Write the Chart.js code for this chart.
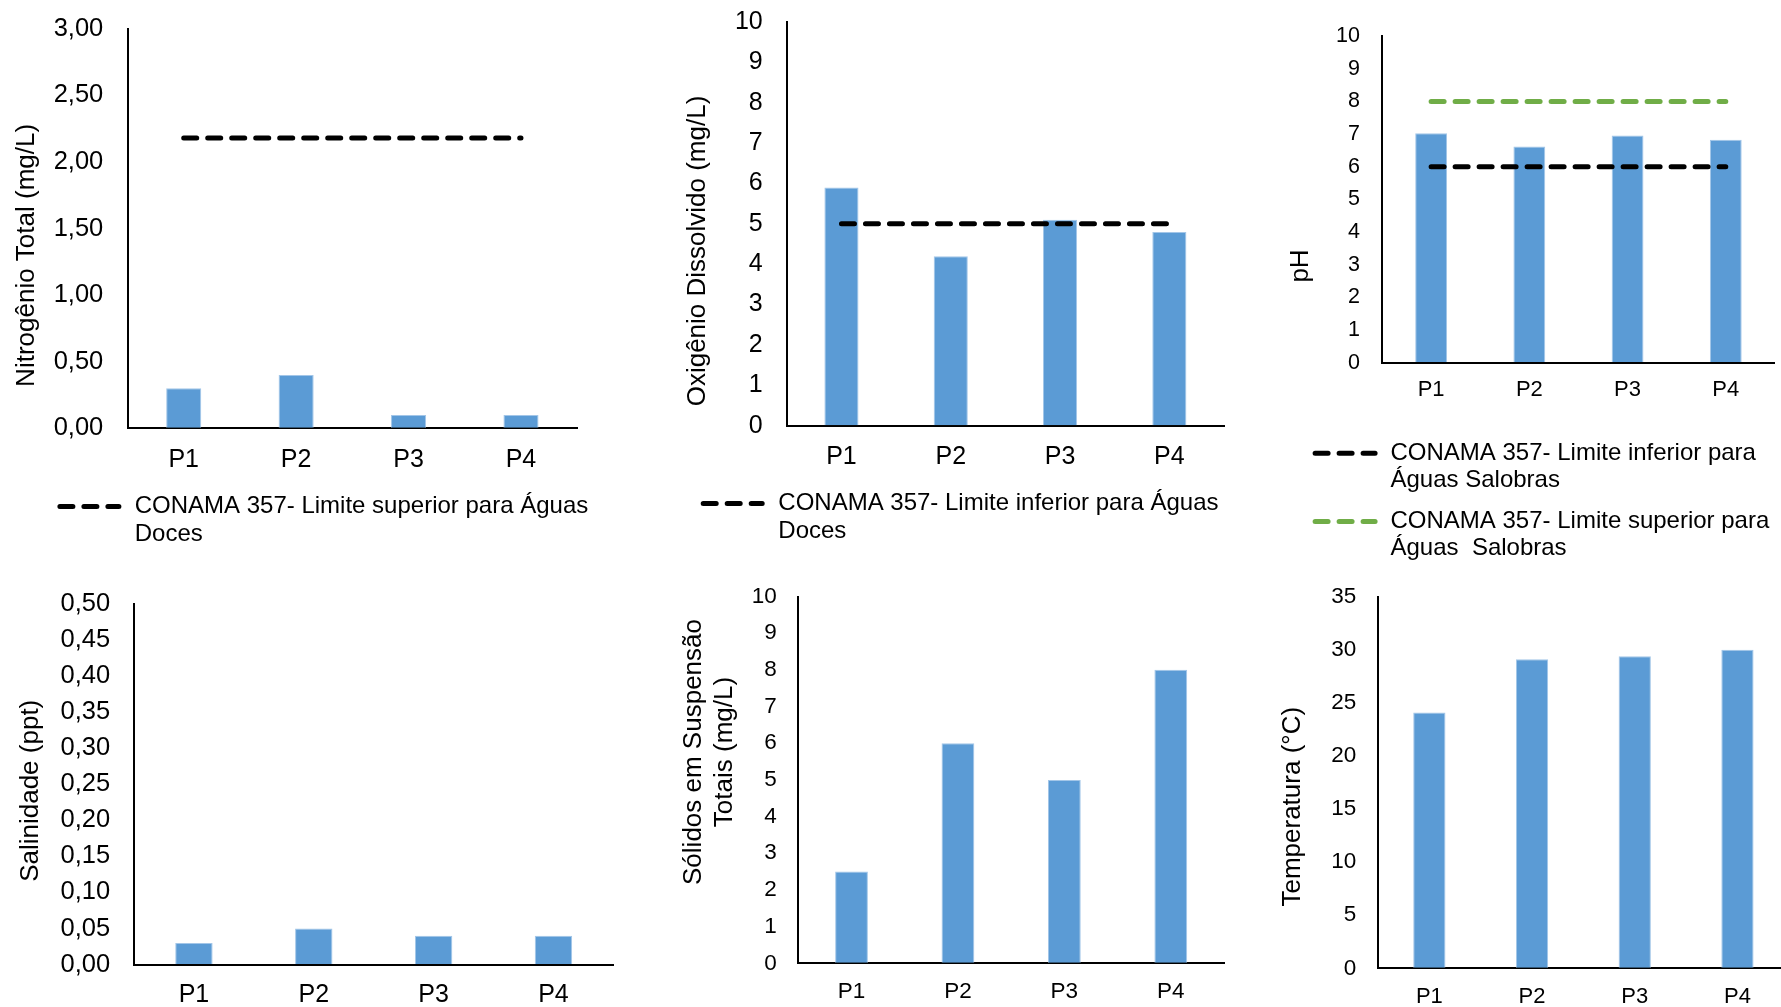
<!DOCTYPE html>
<html lang="pt-BR">
<head>
<meta charset="utf-8">
<title>Parâmetros de qualidade da água – P1 a P4</title>
<script src="https://cdn.jsdelivr.net/npm/chart.js@4.4.1/dist/chart.umd.min.js"></script>
<style>
  html, body { margin: 0; padding: 0; background: #ffffff; width: 1781px; height: 1007px; overflow: hidden; }
  canvas { position: absolute; left: 0; top: 0; }
</style>
</head>
<body>
<canvas id="nitrogenio" width="1800" height="1020"></canvas>
<canvas id="oxigenio" width="1800" height="1020"></canvas>
<canvas id="ph" width="1800" height="1020"></canvas>
<canvas id="salinidade" width="1800" height="1020"></canvas>
<canvas id="solidos" width="1800" height="1020"></canvas>
<canvas id="temperatura" width="1800" height="1020"></canvas>
<script>
// ---- dados ----
const pontos = ['P1', 'P2', 'P3', 'P4'];

const nitrogenio = [0.30, 0.40, 0.10, 0.10];
const nitrogenioLimSup = [2.18, 2.18, 2.18, 2.18];
const nitrogenioTicks = [0, 0.5, 1, 1.5, 2, 2.5, 3];

const oxigenio = [5.9, 4.2, 5.1, 4.8];
const oxigenioLimInf = [5, 5, 5, 5];
const oxigenioTicks = [0, 1, 2, 3, 4, 5, 6, 7, 8, 9, 10];

const ph = [7.03, 6.62, 6.96, 6.83];
const phLimInf = [6, 6, 6, 6];
const phLimSup = [8, 8, 8, 8];
const phTicks = [0, 1, 2, 3, 4, 5, 6, 7, 8, 9, 10];

const salinidade = [0.03, 0.05, 0.04, 0.04];
const salinidadeTicks = [0, 0.05, 0.10, 0.15, 0.20, 0.25, 0.30, 0.35, 0.40, 0.45, 0.50];

const solidos = [2.5, 6, 5, 8];
const solidosTicks = [0, 1, 2, 3, 4, 5, 6, 7, 8, 9, 10];

const temperatura = [24.1, 29.1, 29.4, 30.0];
const temperaturaTicks = [0, 5, 10, 15, 20, 25, 30, 35];

// ---- estilo ----
const FONT = "'Liberation Sans', Arial, Helvetica, sans-serif";
const AZUL = '#5B9BD5';
const VERDE = '#70AD47';
const PRETO = '#000000';
const CANVAS_W = 1800, CANVAS_H = 1020;
const Y_AXIS_W = 100, X_AXIS_H = 50;

function wrapText(ctx, text, maxWidth) {
  const words = text.split(' ');
  const lines = [];
  let cur = '';
  words.forEach(w => {
    const test = cur === '' ? w : cur + ' ' + w;
    if (cur !== '' && ctx.measureText(test).width > maxWidth) {
      lines.push(cur);
      cur = w;
    } else {
      cur = test;
    }
  });
  if (cur) lines.push(cur);
  return lines;
}

// Axis title (rotated) and the legend with dashed samples
const panelDecor = {
  id: 'panelDecor',
  afterDraw(chart, args, opts) {
    const ctx = chart.ctx;
    ctx.save();
    ctx.fillStyle = PRETO;
    const t = opts.title;
    if (t) {
      ctx.font = `${t.size}px ${FONT}`;
      ctx.textAlign = 'center';
      ctx.textBaseline = 'middle';
      const n = t.lines.length;
      t.lines.forEach((line, i) => {
        ctx.save();
        ctx.translate(t.x + (i - (n - 1) / 2) * (t.lineGap || 0), t.y);
        ctx.rotate(-Math.PI / 2);
        ctx.fillText(line, 0, 0);
        ctx.restore();
      });
    }
    const lg = opts.legend;
    if (lg) {
      ctx.font = `${lg.size}px ${FONT}`;
      ctx.textAlign = 'left';
      ctx.textBaseline = 'middle';
      let y = lg.y;
      chart.data.datasets.forEach(ds => {
        if (ds.type !== 'line') return;
        ctx.save();
        ctx.strokeStyle = ds.borderColor;
        ctx.lineWidth = ds.borderWidth;
        ctx.lineCap = 'round';
        ctx.setLineDash(ds.borderDash);
        ctx.beginPath();
        ctx.moveTo(lg.x + ds.borderWidth / 2, y);
        ctx.lineTo(lg.x + lg.sampleWidth - ds.borderWidth / 2, y);
        ctx.stroke();
        ctx.restore();
        const lines = wrapText(ctx, ds.label, lg.maxWidth);
        lines.forEach((ln, i) => ctx.fillText(ln, lg.textX, y + i * lg.lineHeight));
        y += lines.length * lg.lineHeight + lg.itemGap;
      });
    }
    ctx.restore();
  }
};

function limitLine(label, data, color) {
  return {
    type: 'line', label, data,
    borderColor: color, backgroundColor: color,
    borderWidth: 5, borderDash: [13, 11], borderCapStyle: 'round',
    pointRadius: 0, pointHoverRadius: 0, fill: false, tension: 0, order: 1
  };
}

function barSeries(label, data, pct) {
  return {
    type: 'bar', label, data,
    backgroundColor: AZUL, borderColor: '#A3C6E8', borderWidth: 1, borderSkipped: 'bottom',
    categoryPercentage: 1, barPercentage: pct, order: 2
  };
}

function makePanel(id, p) {
  const fmt = v => p.decimals ? v.toFixed(p.decimals).replace('.', ',') : String(v);
  return new Chart(document.getElementById(id), {
    data: { labels: pontos, datasets: p.datasets },
    plugins: [panelDecor],
    options: {
      responsive: false,
      animation: false,
      events: [],
      layout: {
        padding: {
          left: p.area.l - Y_AXIS_W,
          top: p.area.t,
          right: CANVAS_W - p.area.r,
          bottom: CANVAS_H - p.area.b - X_AXIS_H
        }
      },
      scales: {
        x: {
          type: 'category',
          offset: true,
          z: 1,
          afterFit: s => { s.height = X_AXIS_H; },
          grid: { display: true, drawOnChartArea: false, drawTicks: false, offset: true },
          border: { display: true, color: PRETO, width: 2 },
          ticks: { color: PRETO, padding: p.xPad, maxRotation: 0, autoSkip: false,
                   font: { family: FONT, size: p.xSize } }
        },
        y: {
          type: 'linear',
          min: p.ticks[0],
          max: p.ticks[p.ticks.length - 1],
          z: 1,
          afterBuildTicks: s => { s.ticks = p.ticks.map(v => ({ value: v })); },
          afterFit: s => { s.width = Y_AXIS_W; },
          // invisible tick marks keep the labels away from the axis line
          grid: { display: true, drawOnChartArea: false, drawTicks: true,
                  tickLength: p.yPad, tickColor: 'rgba(0,0,0,0)' },
          border: { display: true, color: PRETO, width: 2 },
          ticks: { color: PRETO, padding: 0, autoSkip: false,
                   font: { family: FONT, size: p.ySize },
                   callback: v => fmt(v) }
        }
      },
      plugins: {
        legend: { display: false },
        tooltip: { enabled: false },
        panelDecor: { title: p.title, legend: p.legend || null }
      }
    }
  });
}

makePanel('nitrogenio', {
  area: { l: 127.5, t: 28.8, r: 577.2, b: 428.2 },
  ticks: nitrogenioTicks, decimals: 2,
  ySize: 25.5, yPad: 24.2, xSize: 25, xPad: 16.8,
  datasets: [
    limitLine('CONAMA 357- Limite superior para Águas Doces', nitrogenioLimSup, PRETO),
    barSeries('Nitrogênio Total', nitrogenio, 0.312)
  ],
  title: { lines: ['Nitrogênio Total (mg/L)'], x: 26.8, y: 255.4, size: 26 },
  legend: { x: 57.4, y: 506.5, sampleWidth: 64, textX: 134.7, maxWidth: 480,
            size: 24, lineHeight: 28, itemGap: 14 }
});

makePanel('oxigenio', {
  area: { l: 786.8, t: 22, r: 1224, b: 425.7 },
  ticks: oxigenioTicks, decimals: 0,
  ySize: 25, yPad: 24.1, xSize: 25, xPad: 16,
  datasets: [
    limitLine('CONAMA 357- Limite inferior para Águas Doces', oxigenioLimInf, PRETO),
    barSeries('Oxigênio Dissolvido', oxigenio, 0.312)
  ],
  title: { lines: ['Oxigênio Dissolvido (mg/L)'], x: 698, y: 251, size: 26 },
  legend: { x: 700.7, y: 503.5, sampleWidth: 64, textX: 778.3, maxWidth: 480,
            size: 24, lineHeight: 28, itemGap: 14 }
});

makePanel('ph', {
  area: { l: 1382, t: 36.3, r: 1774.9, b: 362.6 },
  ticks: phTicks, decimals: 0,
  ySize: 21.5, yPad: 22, xSize: 22, xPad: 14.5,
  datasets: [
    limitLine('CONAMA 357- Limite inferior para Águas Salobras', phLimInf, PRETO),
    limitLine('CONAMA 357- Limite superior para Águas  Salobras', phLimSup, VERDE),
    barSeries('pH', ph, 0.324)
  ],
  title: { lines: ['pH'], x: 1300.8, y: 266, size: 26 },
  legend: { x: 1312.6, y: 453.2, sampleWidth: 65, textX: 1390.5, maxWidth: 400,
            size: 24, lineHeight: 27, itemGap: 14.4 }
});

makePanel('salinidade', {
  area: { l: 134, t: 604.2, r: 613.4, b: 964.5 },
  ticks: salinidadeTicks, decimals: 2,
  ySize: 25.5, yPad: 23.8, xSize: 25, xPad: 15.5,
  datasets: [ barSeries('Salinidade', salinidade, 0.312) ],
  title: { lines: ['Salinidade (ppt)'], x: 30.6, y: 790.8, size: 26 }
});

makePanel('solidos', {
  area: { l: 798.3, t: 596.5, r: 1224, b: 963.3 },
  ticks: solidosTicks, decimals: 0,
  ySize: 22.5, yPad: 21.6, xSize: 22.5, xPad: 14.9,
  datasets: [ barSeries('Sólidos em Suspensão Totais', solidos, 0.308) ],
  title: { lines: ['Sólidos em Suspensão', 'Totais (mg/L)'], x: 709.2, y: 752, size: 26, lineGap: 31.6 }
});

makePanel('temperatura', {
  area: { l: 1378, t: 596.7, r: 1788.8, b: 968.3 },
  ticks: temperaturaTicks, decimals: 0,
  ySize: 22.5, yPad: 21.7, xSize: 22, xPad: 15.5,
  datasets: [ barSeries('Temperatura', temperatura, 0.314) ],
  title: { lines: ['Temperatura (°C)'], x: 1293.2, y: 806.7, size: 26 }
});
</script>
</body>
</html>
